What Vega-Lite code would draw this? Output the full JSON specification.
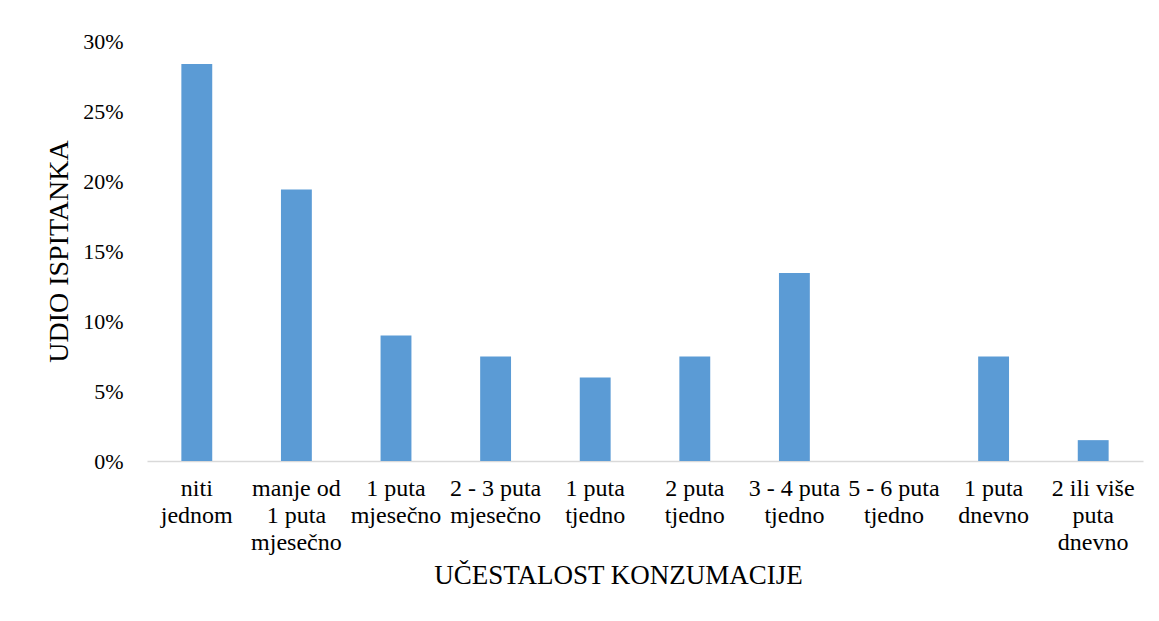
{
  "$schema": "https://vega.github.io/schema/vega-lite/v6.json",
  "autosize": "none",
  "width": 996,
  "height": 420,
  "padding": {"left": 147, "top": 41, "right": 16, "bottom": 160},
  "background": "white",
  "config": {
    "view": {"stroke": null},
    "font": "Liberation Serif",
    "axis": {"labelFont": "Liberation Serif", "titleFont": "Liberation Serif"}
  },
  "data": {
    "values": [
      {"kategorija": "niti\njednom", "udio": 0.2836},
      {"kategorija": "manje od\n1 puta\nmjesečno", "udio": 0.1940},
      {"kategorija": "1 puta\nmjesečno", "udio": 0.0896},
      {"kategorija": "2 - 3 puta\nmjesečno", "udio": 0.0746},
      {"kategorija": "1 puta\ntjedno", "udio": 0.0597},
      {"kategorija": "2 puta\ntjedno", "udio": 0.0746},
      {"kategorija": "3 - 4 puta\ntjedno", "udio": 0.1343},
      {"kategorija": "5 - 6 puta\ntjedno", "udio": 0},
      {"kategorija": "1 puta\ndnevno", "udio": 0.0746},
      {"kategorija": "2 ili više\nputa\ndnevno", "udio": 0.0149}
    ]
  },
  "mark": {"type": "bar", "color": "#5b9bd5"},
  "encoding": {
    "x": {
      "field": "kategorija",
      "type": "nominal",
      "sort": null,
      "scale": {"paddingInner": 0.69, "paddingOuter": 0.345},
      "axis": {
        "title": "UČESTALOST KONZUMACIJE",
        "titleFont": "Liberation Serif",
        "titleFontSize": 27,
        "titleFontWeight": "normal",
        "titleColor": "#000000",
        "titleX": 471,
        "titleY": 114,
        "titleBaseline": "middle",
        "labelExpr": "split(datum.label, '\\n')",
        "labelFont": "Liberation Serif",
        "labelAngle": 0,
        "labelFontSize": 24,
        "labelLineHeight": 27,
        "labelColor": "#000000",
        "labelPadding": 15,
        "labelBaseline": "top",
        "labelLimit": 200,
        "ticks": false,
        "domainColor": "#d9d9d9",
        "domainWidth": 1.5
      }
    },
    "y": {
      "field": "udio",
      "type": "quantitative",
      "scale": {"domain": [0, 0.3]},
      "axis": {
        "title": "UDIO ISPITANKA",
        "titleFont": "Liberation Serif",
        "titleFontSize": 28,
        "titleFontWeight": "normal",
        "titleColor": "#000000",
        "titlePadding": 9,
        "format": ".0%",
        "values": [0, 0.05, 0.1, 0.15, 0.2, 0.25, 0.3],
        "labelFont": "Liberation Serif",
        "labelFontSize": 22,
        "labelColor": "#000000",
        "labelPadding": 24,
        "ticks": false,
        "domain": false,
        "grid": false
      }
    }
  }
}
